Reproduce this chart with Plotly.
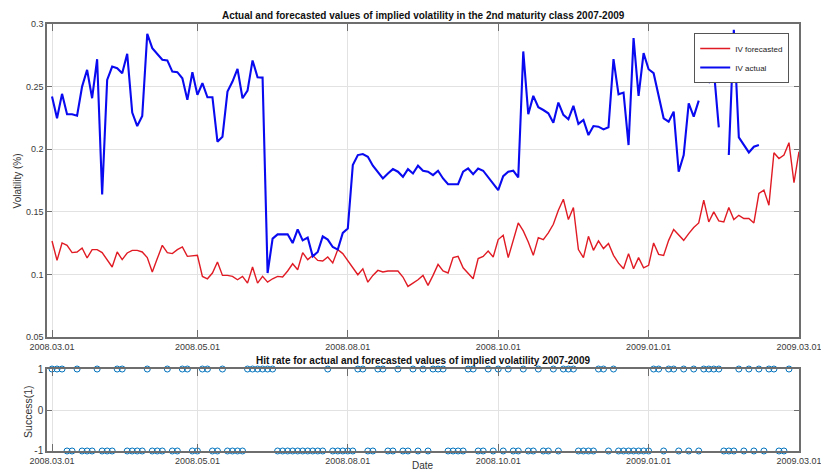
import plotly.graph_objects as go

# ---- data ----
day_index = list(range(1, 151))
tick_positions = [1, 30, 60, 90, 120, 150]
tick_labels = ["2008.03.01", "2008.05.01", "2008.08.01", "2008.10.01", "2009.01.01", "2009.03.01"]

iv_forecasted = [
    0.1267, 0.1112, 0.1251, 0.1232, 0.1174, 0.1179, 0.1211, 0.1131, 0.1198, 0.1198,
    0.1174, 0.1118, 0.1059, 0.1179, 0.1118, 0.1171, 0.1192, 0.1192, 0.1179, 0.1134,
    0.1019, 0.1126, 0.1232, 0.1174, 0.1166, 0.1198, 0.1219, 0.1144, 0.1147, 0.1152,
    0.0984, 0.0965, 0.1011, 0.1099, 0.0992, 0.0992, 0.0984, 0.0957, 0.0984, 0.0930,
    0.1059, 0.0930, 0.0984, 0.0938, 0.0965, 0.0984, 0.0979, 0.1027, 0.1085, 0.1037,
    0.1174, 0.1118, 0.1152, 0.1112, 0.1107, 0.1139, 0.1091, 0.1198, 0.1166, 0.1112,
    0.1059, 0.0997, 0.1045, 0.0938, 0.0992, 0.1032, 0.1019, 0.1027, 0.1027, 0.1027,
    0.0979, 0.0904, 0.0930, 0.0957, 0.0992, 0.0912, 0.0992, 0.1080, 0.1027, 0.1011,
    0.1134, 0.1144, 0.1053, 0.1011, 0.0965, 0.1126, 0.1144, 0.1187, 0.1139, 0.1278,
    0.1312, 0.1134, 0.1272, 0.1411, 0.1347, 0.1259, 0.1152, 0.1294, 0.1278, 0.1331,
    0.1400, 0.1512, 0.1600, 0.1438, 0.1534, 0.1198, 0.1134, 0.1304, 0.1192, 0.1267,
    0.1206, 0.1246, 0.1152, 0.1090, 0.1045, 0.1166, 0.1045, 0.1134, 0.1053, 0.1072,
    0.1251, 0.1160, 0.1152, 0.1272, 0.1358, 0.1312, 0.1272, 0.1326, 0.1374, 0.1411,
    0.1593, 0.1419, 0.1499, 0.1427, 0.1419, 0.1534, 0.1438, 0.1472, 0.1446, 0.1446,
    0.1411, 0.1646, 0.1673, 0.1553, 0.1972, 0.1926, 0.1953, 0.2052, 0.1732, 0.1980,
]

iv_actual = [
    0.2420, 0.2247, 0.2442, 0.2279, 0.2279, 0.2268, 0.2500, 0.2634, 0.2407, 0.2719,
    0.1638, 0.2554, 0.2660, 0.2647, 0.2607, 0.2762, 0.2292, 0.2185, 0.2266, 0.2922,
    0.2807, 0.2759, 0.2714, 0.2709, 0.2620, 0.2615, 0.2567, 0.2394, 0.2615, 0.2434,
    0.2527, 0.2415, 0.2415, 0.2060, 0.2100, 0.2460, 0.2540, 0.2642, 0.2407, 0.2468,
    0.2709, 0.2575, 0.2572, 0.1011, 0.1286, 0.1320, 0.1320, 0.1320, 0.1250, 0.1360,
    0.1272, 0.1294, 0.1144, 0.1179, 0.1304, 0.1278, 0.1219, 0.1198, 0.1331, 0.1366,
    0.1873, 0.1953, 0.1961, 0.1940, 0.1868, 0.1820, 0.1766, 0.1806, 0.1841, 0.1820,
    0.1780, 0.1841, 0.1806, 0.1868, 0.1828, 0.1820, 0.1793, 0.1828, 0.1766, 0.1720,
    0.1720, 0.1720, 0.1820, 0.1846, 0.1801, 0.1846, 0.1828, 0.1774, 0.1720, 0.1673,
    0.1785, 0.1820, 0.1828, 0.1774, 0.2781, 0.2279, 0.2426, 0.2335, 0.2313, 0.2287,
    0.2212, 0.2372, 0.2274, 0.2239, 0.2346, 0.2202, 0.2234, 0.2113, 0.2185, 0.2180,
    0.2158, 0.2175, 0.2719, 0.2438, 0.2452, 0.2033, 0.2888, 0.2426, 0.2767, 0.2639,
    0.2607, 0.2434, 0.2247, 0.2220, 0.2300, 0.1820, 0.1953, 0.2367, 0.2260, 0.2388,
    None, 0.2527, 0.2639, 0.2175, None, 0.1953, 0.2954, 0.2094, 0.2033, 0.1974,
    0.2020, 0.2033, None, None, None, None, None, None, None, None,
]

hit_index = list(range(1, 149))
hit = [
    1, 1, 1, -1, -1, 1, -1, -1, -1, 1,
    -1, -1, -1, 1, 1, -1, -1, -1, -1, 1,
    -1, -1, -1, 1, -1, -1, 1, 1, -1, -1,
    1, 1, -1, -1, 1, -1, -1, -1, -1, 1,
    1, 1, 1, 1, 1, -1, -1, -1, -1, -1,
    -1, -1, -1, -1, -1, 1, -1, -1, -1, -1,
    -1, 1, 1, -1, -1, 1, 1, -1, -1, 1,
    -1, -1, 1, -1, 1, -1, 1, 1, 1, -1,
    -1, -1, -1, 1, 1, -1, -1, 1, -1, 1,
    -1, 1, -1, -1, 1, -1, -1, 1, -1, -1,
    1, -1, 1, 1, 1, -1, -1, -1, -1, 1,
    1, -1, 1, -1, -1, -1, -1, -1, -1, -1,
    1, 1, -1, 1, 1, -1, 1, -1, 1, -1,
    1, 1, 1, 1, -1, -1, -1, 1, -1, 1,
    -1, 1, -1, 1, 1, -1, -1, 1,
]

vol_ticks = [0.05, 0.1, 0.15, 0.2, 0.25, 0.3]
vol_tick_labels = ["0.05", "0.1", "0.15", "0.2", "0.25", "0.3"]
hit_ticks = [-1, 0, 1]
hit_tick_labels = ["-1", "0", "1"]

# ---- figure ----
FONT = "Liberation Sans, Arial, Helvetica, sans-serif"
AXIS_COLOR = "#6e6e6e"
GRID_COLOR = "#e2e2e2"
TICK_FONT = dict(family=FONT, size=9, color="#3a3a3a")

fig = go.Figure()

fig.add_trace(go.Scatter(
    x=day_index, y=iv_forecasted, mode="lines", name="IV forecasted",
    line=dict(color="#e01b24", width=1.4), xaxis="x", yaxis="y",
))
fig.add_trace(go.Scatter(
    x=day_index, y=iv_actual, mode="lines", name="IV actual",
    line=dict(color="#0a0af0", width=2.1), connectgaps=False, xaxis="x", yaxis="y",
))
fig.add_trace(go.Scatter(
    x=hit_index, y=hit, mode="markers", showlegend=False,
    marker=dict(symbol="circle-open", size=6, color="#0072BD", line=dict(width=1)),
    cliponaxis=False, xaxis="x2", yaxis="y2",
))

common_x = dict(
    range=[0, 150], tickmode="array", tickvals=tick_positions, ticktext=tick_labels,
    ticks="inside", ticklen=7, tickcolor=AXIS_COLOR, showline=True, linecolor=AXIS_COLOR,
    linewidth=1.5, mirror="ticks", showgrid=True, gridcolor=GRID_COLOR, gridwidth=1,
    zeroline=False, tickfont=TICK_FONT, tickangle=0, automargin=False,
    ticklabeloverflow="allow",
)
common_y = dict(
    tickmode="array", ticks="inside", ticklen=5, tickcolor=AXIS_COLOR, showline=True,
    linecolor=AXIS_COLOR, linewidth=1.5, mirror="ticks", showgrid=True,
    gridcolor=GRID_COLOR, zeroline=False, automargin=False,
)

fig.update_layout(
    width=821, height=472,
    margin=dict(l=47, r=22, t=24, b=21),
    paper_bgcolor="white", plot_bgcolor="white",
    font=dict(family=FONT, size=8, color="#222"),
    xaxis=dict(domain=[0, 1], anchor="y", **common_x),
    yaxis=dict(domain=[0.267, 1], anchor="x", range=[0.05, 0.3],
               tickvals=vol_ticks, ticktext=vol_tick_labels, tickfont=TICK_FONT, **common_y),
    xaxis2=dict(domain=[0, 1], anchor="y2", **common_x),
    yaxis2=dict(domain=[0, 0.192], anchor="x2", range=[-1, 1],
                tickvals=hit_ticks, ticktext=hit_tick_labels,
                tickfont=dict(family=FONT, size=10, color="#3a3a3a"), **common_y),
    legend=dict(
        x=0.987, y=0.979, xanchor="right", yanchor="top",
        bgcolor="white", bordercolor="#555", borderwidth=1,
        font=dict(family=FONT, size=8, color="#222"), tracegroupgap=0,
        itemwidth=30,
    ),
    showlegend=True,
)

annotations = [
    dict(text="<b>Actual and forecasted values of implied volatility in the 2nd maturity class 2007-2009</b>",
         x=0.5, y=1.021, xref="paper", yref="paper", xanchor="center", yanchor="middle",
         showarrow=False, font=dict(family=FONT, size=10, color="#111")),
    dict(text="<b>Hit rate for actual and forecasted values of implied volatility 2007-2009</b>",
         x=0.5, y=0.2108, xref="paper", yref="paper", xanchor="center", yanchor="middle",
         showarrow=False, font=dict(family=FONT, size=10, color="#111")),
    dict(text="Volatility (%)", x=-0.0386, y=0.6335, xref="paper", yref="paper",
         xanchor="center", yanchor="middle", textangle=-90, showarrow=False,
         font=dict(family=FONT, size=10, color="#333")),
    dict(text="Success(1)", x=-0.0253, y=0.0937, xref="paper", yref="paper",
         xanchor="center", yanchor="middle", textangle=-90, showarrow=False,
         font=dict(family=FONT, size=10.5, color="#333")),
    dict(text="Date", x=0.5, y=-0.034, xref="paper", yref="paper",
         xanchor="center", yanchor="middle", showarrow=False,
         font=dict(family=FONT, size=10, color="#333")),
]
fig.update_layout(annotations=annotations)

fig.write_html(
    "out.html",
    config={"displayModeBar": False},
    post_script="document.body.style.margin='0';document.body.style.overflow='hidden';",
)
